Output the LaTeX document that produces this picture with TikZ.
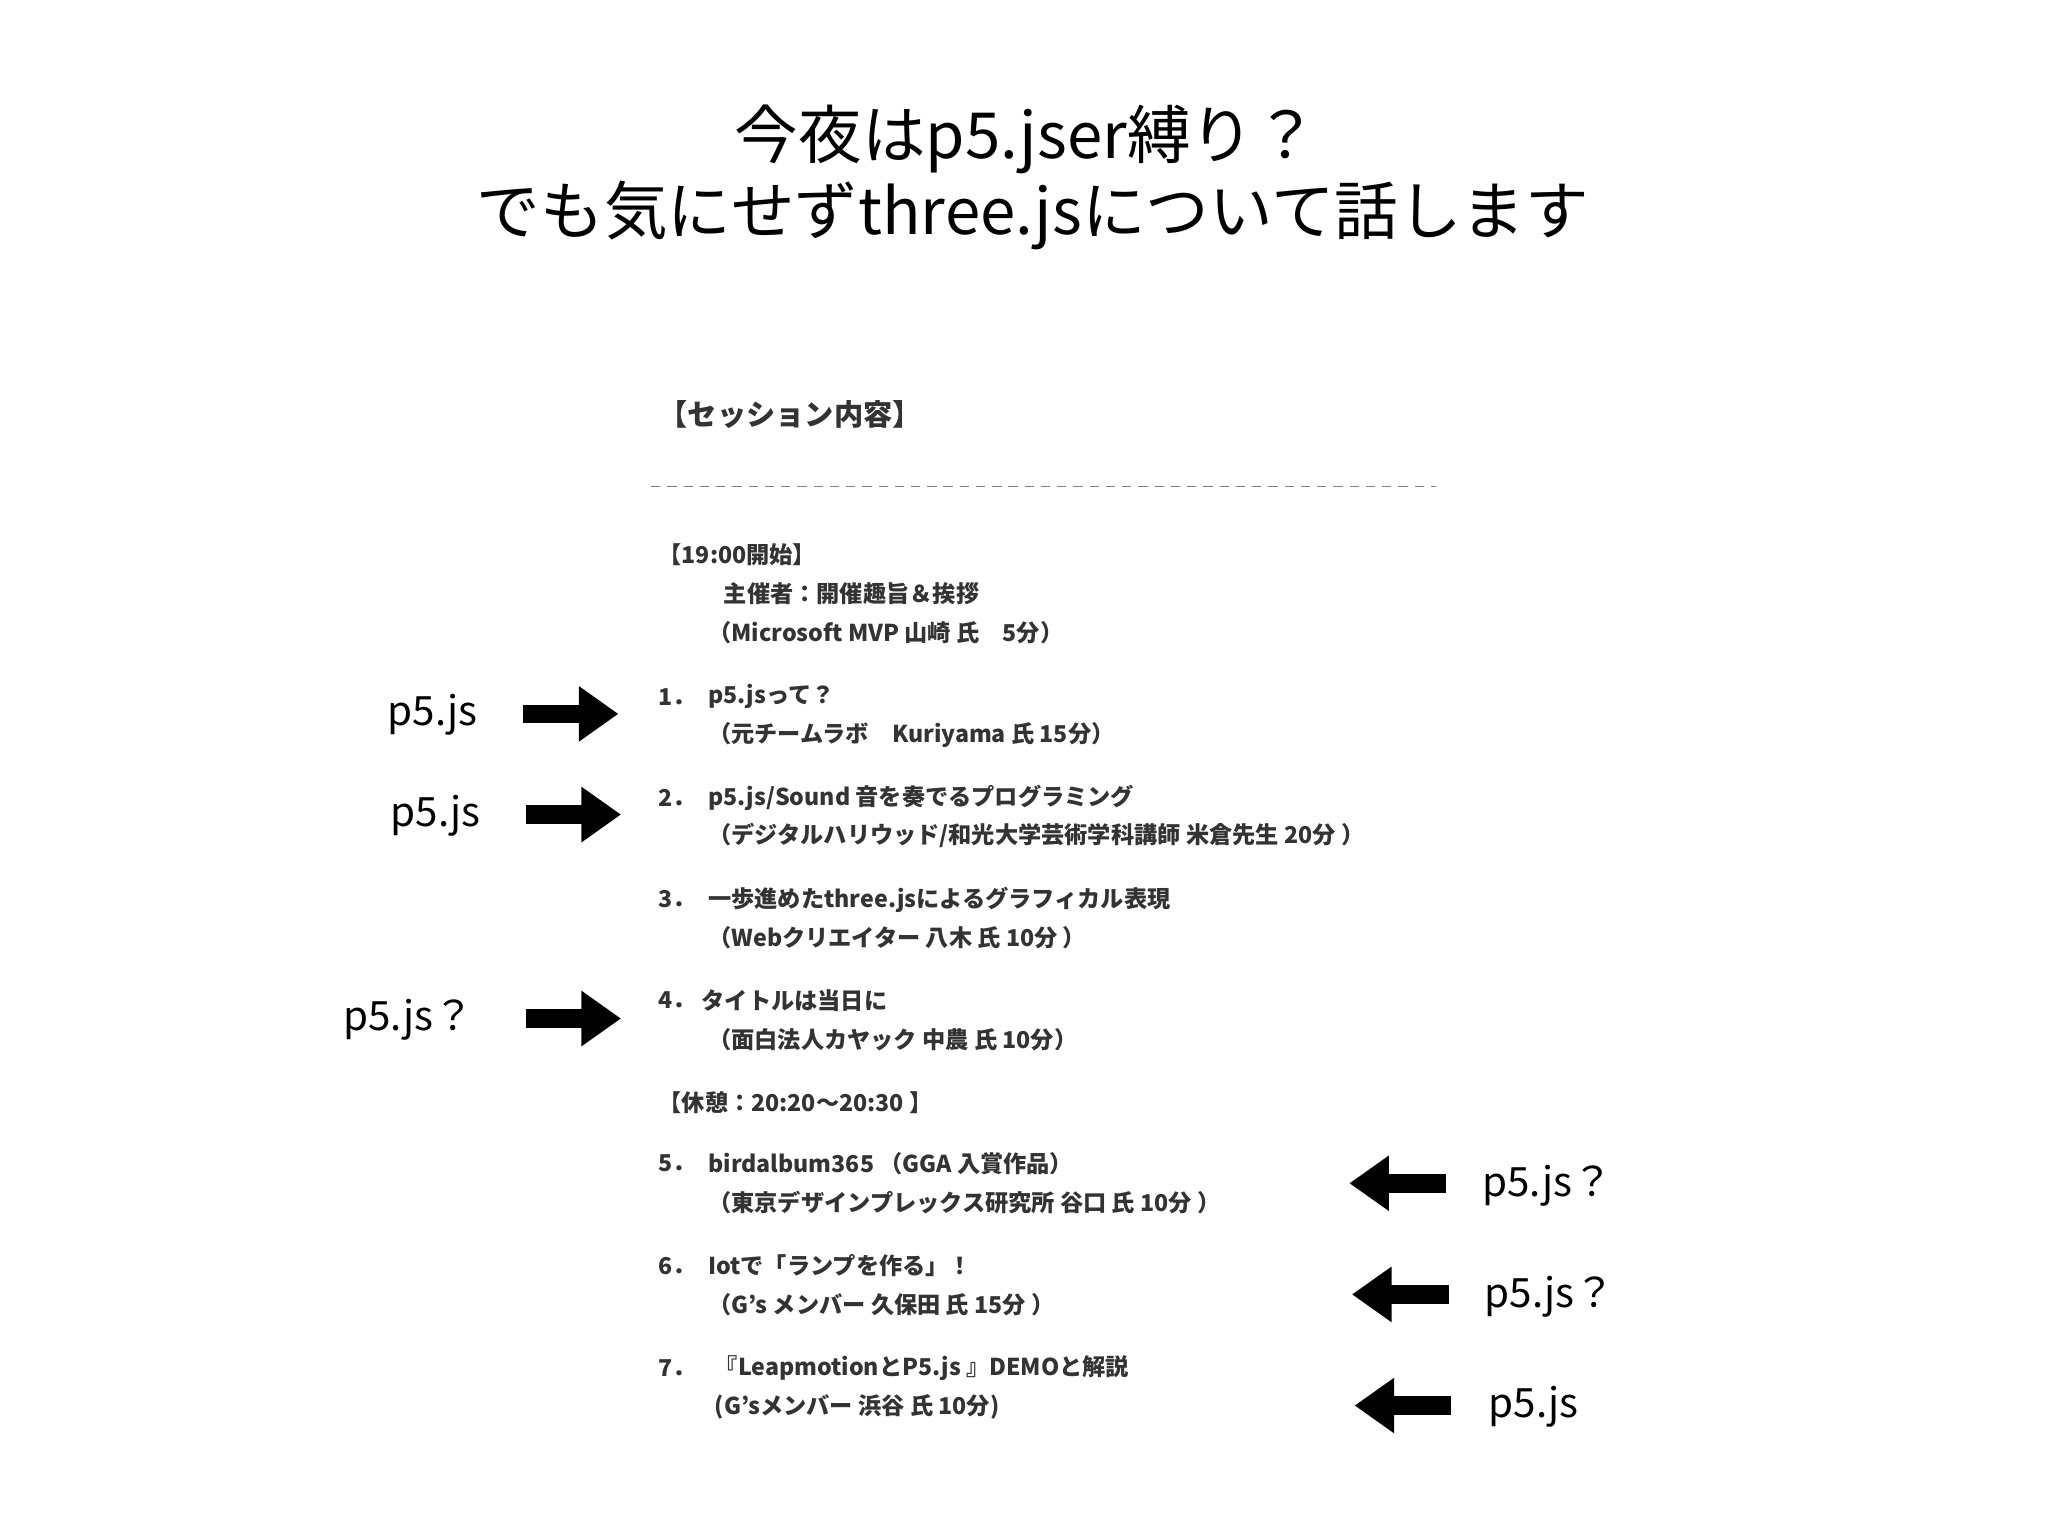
\documentclass[tikz,border=0pt]{standalone}
\usepackage{fontspec}
\setmainfont{Noto Sans CJK JP}
\usetikzlibrary{arrows.meta}
\definecolor{txt}{HTML}{333333}
\tikzset{
 ttl/.style={font=\fontsize{13.7}{15}\selectfont, inner sep=0},
 lbl/.style={font=\fontsize{8.7}{11}\selectfont, anchor=west, inner sep=0},
 li/.style={font=\bfseries\fontsize{5}{6}\selectfont, text=txt, anchor=west, inner sep=0},
 brush/.style={line width=1.4mm, black, -{Triangle[length=3mm,width=4mm]}}
}
\begin{document}
\begin{tikzpicture}[x=0.01cm,y=-0.01cm]
\useasboundingbox (0,0) rectangle (1552,1164);
\begin{scope}[x=0.0099cm,y=-0.0099cm]
\node[ttl] (t1) at (785,107) {今夜はp5.jser縛り？};
\node[ttl] (t2) at (790,165) {でも気にせずthree.jsについて話します};
\node[li, font=\bfseries\fontsize{6.3}{8}\selectfont] (h) at (503,317) {【セッション内容】};
\coordinate (d1) at (498,372); \coordinate (d2) at (1098,372);
\draw[gray, dash pattern=on 2pt off 1.5pt, line width=0.3pt] (d1) -- (d2);
\node[li] (a0) at (503,424) {【19:00開始】};
\node[li] (a1) at (553,454) {主催者：開催趣旨＆挨拶};
\node[li] (a2) at (541,484) {（Microsoft MVP 山崎 氏　5分）};
\node[li] (n1) at (503,533) {1．};
\node[li] (b1) at (541,533) {p5.jsって？};
\node[li] (b2) at (541,562) {（元チームラボ　Kuriyama 氏 15分）};
\node[li] (n2) at (503,610) {2．};
\node[li] (c1) at (541,610) {p5.js/Sound 音を奏でるプログラミング};
\node[li] (c2) at (541,639) {（デジタルハリウッド/和光大学芸術学科講師 米倉先生 20分 ）};
\node[li] (n3) at (503,688) {3．};
\node[li] (d1t) at (541,688) {一歩進めたthree.jsによるグラフィカル表現};
\node[li] (d2t) at (541,717) {（Webクリエイター 八木 氏 10分 ）};
\node[li] (n4) at (503,765) {4．};
\node[li] (e1) at (536,765) {タイトルは当日に};
\node[li] (e2) at (541,795) {（面白法人カヤック 中農 氏 10分）};
\node[li] (br) at (503,843) {【休憩：20:20〜20:30 】};
\node[li] (n5) at (503,890) {5．};
\node[li] (f1) at (541,890) {birdalbum365 （GGA 入賞作品）};
\node[li] (f2) at (541,920) {（東京デザインプレックス研究所 谷口 氏 10分 ）};
\node[li] (n6) at (503,968) {6．};
\node[li] (g1) at (541,968) {Iotで「ランプを作る」！};
\node[li] (g2) at (541,998) {（G's メンバー 久保田 氏 15分 ）};
\node[li] (n7) at (503,1046) {7．};
\node[li] (h1) at (546,1046) {『LeapmotionとP5.js 』DEMOと解説};
\node[li] (h2) at (546,1076) {(G'sメンバー 浜谷 氏 10分)};
\node[lbl] (l1) at (296,547) {p5.js};
\node[lbl] (l2) at (298,624) {p5.js};
\node[lbl] (l3) at (262,780) {p5.js？};
\coordinate (s1) at (400,546); \coordinate (e1c) at (473,546);
\coordinate (s2) at (402,623); \coordinate (e2c) at (475,623);
\coordinate (s3) at (402,779); \coordinate (e3c) at (475,779);
\draw[brush] (s1) -- (e1c);
\draw[brush] (s2) -- (e2c);
\draw[brush] (s3) -- (e3c);
\node[lbl] (r1) at (1133,907) {p5.js？};
\node[lbl] (r2) at (1135,992) {p5.js？};
\node[lbl] (r3) at (1138,1076) {p5.js};
\coordinate (s4) at (1106,905); \coordinate (e4) at (1032,905);
\coordinate (s5) at (1108,990); \coordinate (e5) at (1034,990);
\coordinate (s6) at (1110,1075); \coordinate (e6) at (1036,1075);
\draw[brush] (s4) -- (e4);
\draw[brush] (s5) -- (e5);
\draw[brush] (s6) -- (e6);
\end{scope}
\end{tikzpicture}
\end{document}
